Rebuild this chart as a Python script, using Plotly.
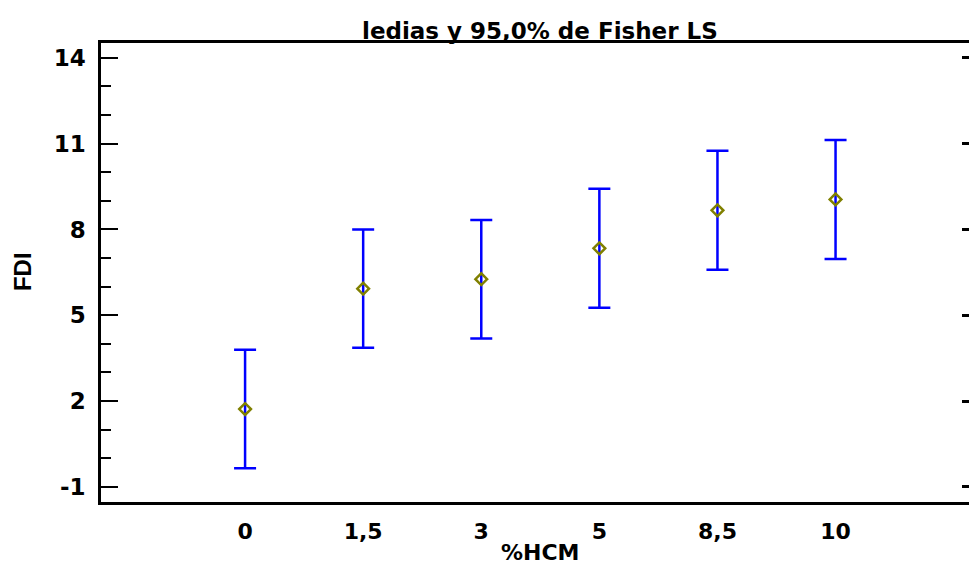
import plotly.graph_objects as go

categories = ["0", "1,5", "3", "5", "8,5", "10"]
means = [1.72, 5.93, 6.26, 7.34, 8.67, 9.05]
half_lsd = [2.07, 2.07, 2.07, 2.08, 2.08, 2.08]
y_ticks = [-1, 2, 5, 8, 11, 14]
y_tick_labels = ["-1", "2", "5", "8", "11", "14"]

xpos = list(range(len(categories)))
WIDE = "DejaVu Sans, Verdana, sans-serif"
ARIAL = "Liberation Sans, Arial, sans-serif"

fig = go.Figure()
fig.add_trace(go.Scatter(
    x=xpos, y=means, mode="markers",
    marker=dict(symbol="diamond-open", size=9, color="#808000", line=dict(width=2.5, color="#808000")),
    error_y=dict(type="data", array=half_lsd, visible=True, color="#0000FF", thickness=2.5, width=11),
    showlegend=False, hoverinfo="skip",
))
fig.add_trace(go.Scatter(x=[0], y=[means[0]], yaxis="y2", mode="markers",
                         marker=dict(opacity=0), showlegend=False, hoverinfo="skip"))

yr = [-1.53, 14.52]
fig.update_layout(
    width=969, height=565,
    margin=dict(l=101, r=0, t=43, b=63),
    paper_bgcolor="white", plot_bgcolor="white",
    font=dict(family=WIDE, size=22, color="black"),
    xaxis=dict(
        range=[-1.22, 6.13], tickmode="array", tickvals=xpos, ticktext=categories,
        showgrid=False, zeroline=False, showline=True, linewidth=3, linecolor="black",
        mirror=True, ticks="", tickfont=dict(family=WIDE, size=22, color="black", weight="bold"),
        ticklabelstandoff=8,
    ),
    yaxis=dict(
        range=yr, tickmode="array", tickvals=y_ticks, ticktext=y_tick_labels,
        showgrid=False, zeroline=False, showline=True, linewidth=2.5, linecolor="black",
        ticks="inside", ticklen=17, tickwidth=2, tickcolor="black",
        minor=dict(tickmode="linear", tick0=-1, dtick=1, ticks="inside", ticklen=10, tickwidth=2, tickcolor="black"),
        tickfont=dict(family=WIDE, size=23, color="black", weight="bold"), ticklabelstandoff=8,
    ),
    yaxis2=dict(
        range=yr, overlaying="y", side="right", anchor="x",
        tickmode="array", tickvals=y_ticks, showticklabels=False,
        showgrid=False, zeroline=False, showline=False,
        ticks="inside", ticklen=7, tickwidth=3, tickcolor="black",
    ),
    annotations=[
        dict(text="ledias y 95,0% de Fisher LS", x=0.506, y=1.0, xref="paper", yref="paper",
             xanchor="center", yanchor="middle", yshift=12, showarrow=False,
             font=dict(family=WIDE, size=23, color="black", weight="bold")),
        dict(text="%HCM", x=0.506, y=0.0, xref="paper", yref="paper",
             xanchor="center", yanchor="middle", yshift=-50, showarrow=False,
             font=dict(family=WIDE, size=22, color="black", weight="bold")),
        dict(text="FDI", x=-0.091, y=0.501, xref="paper", yref="paper", textangle=-90,
             xanchor="center", yanchor="middle", showarrow=False,
             font=dict(family=ARIAL, size=24, color="black", weight="bold")),
    ],
)

fig.write_html("out.html")
